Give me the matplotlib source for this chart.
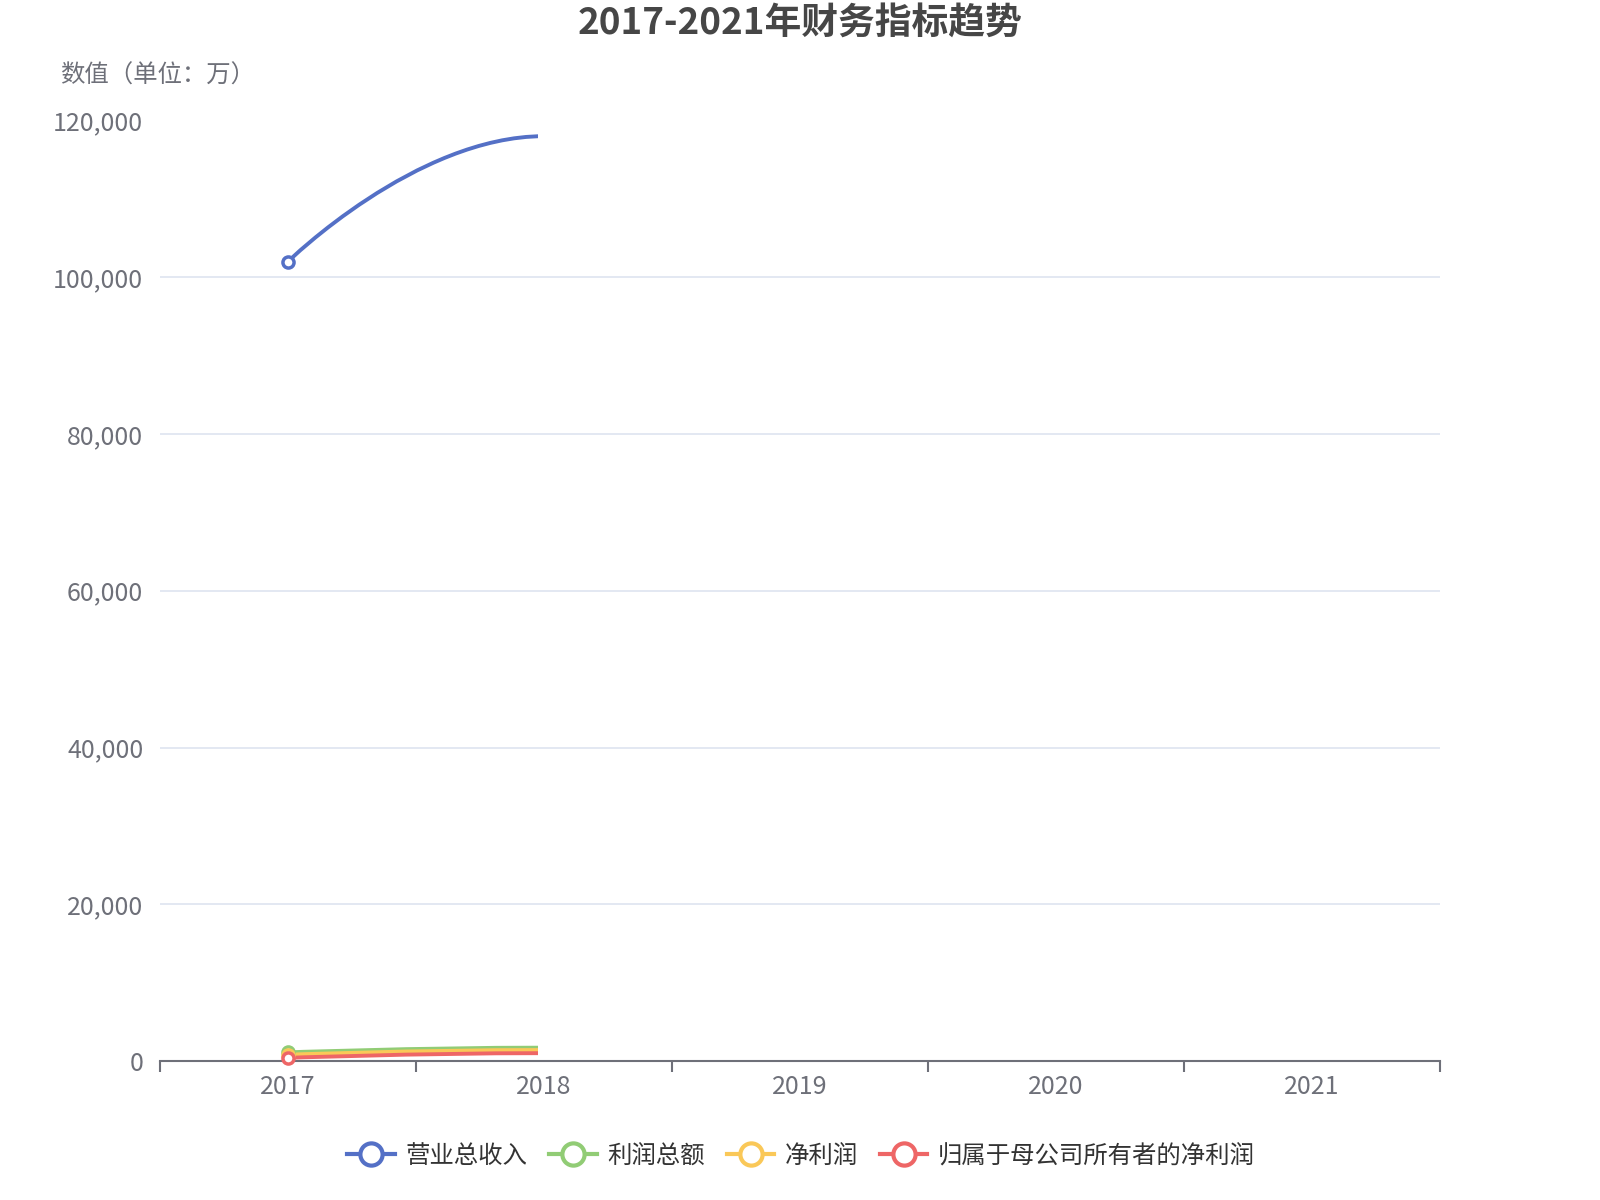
import matplotlib
matplotlib.use("Agg")
import matplotlib.pyplot as plt
from matplotlib.path import Path
from matplotlib.patches import PathPatch, Rectangle
from matplotlib.lines import Line2D

plt.rcParams['font.family'] = ['Noto Sans CJK SC', 'DejaVu Sans']

years = ["2017", "2018", "2019", "2020", "2021"]
series_names = ["营业总收入", "利润总额", "净利润", "归属于母公司所有者的净利润"]
colors = ["#5470c6", "#91cc75", "#fac858", "#ee6666"]
# only 2017 and 2018 are drawn in the reference (values in 万)
revenue = [102000, 118000]
total_profit = [1100, 1700]
net_profit = [800, 1400]
parent_net_profit = [400, 1000]
series_values = [revenue, total_profit, net_profit, parent_net_profit]

W, H = 1600, 1200
fig = plt.figure(figsize=(16, 12), dpi=100)
ax = fig.add_axes([160 / W, 1 - 1061 / H, (1440 - 160) / W, (1061 - 120.5) / H])

ax.set_xlim(-0.5, len(years) - 0.5)
ax.set_ylim(0, 120000)
ax.set_yticks(range(0, 120001, 20000))
ax.set_yticklabels(["{:,}".format(v) for v in range(0, 120001, 20000)])
ax.set_xticks(range(len(years)))
ax.set_xticklabels(years)
ax.set_xticks([i - 0.5 for i in range(len(years) + 1)], minor=True)

ax.grid(axis='y', color='#e0e6f1', linewidth=1.3)
ax.set_axisbelow(True)
for s in ['top', 'right', 'left']:
    ax.spines[s].set_visible(False)
ax.spines['bottom'].set_color('#6e7079')
ax.spines['bottom'].set_linewidth(1.5)
ax.tick_params(axis='y', length=0, pad=12, labelsize=18, labelcolor='#6e7079')
ax.tick_params(axis='x', which='major', length=0, pad=9, labelsize=18, labelcolor='#6e7079')
ax.tick_params(axis='x', which='minor', length=8, width=1.5, color='#6e7079')
for lbl in ax.get_yticklabels():
    lbl.set_va('center_baseline')

# clip like the partially drawn (animated) chart: stops just before 2018
clip = Rectangle((-0.5, -1e6), 1.476, 2e7, transform=ax.transData)

for vals, c in zip(series_values, colors):
    x0, x1 = 0, 1
    y0, y1 = vals
    verts = [(x0, y0), (x0, y0), (x0 + 0.5, y1), (x1, y1)]
    codes = [Path.MOVETO, Path.CURVE4, Path.CURVE4, Path.CURVE4]
    p = PathPatch(Path(verts, codes), facecolor='none', edgecolor=c,
                  linewidth=2.8, capstyle='butt', zorder=3)
    ax.add_patch(p)
    p.set_clip_path(clip)

for vals, c in zip(series_values, colors):
    ax.plot([0], [vals[0]], marker='o', markersize=8, markerfacecolor='white',
            markeredgecolor=c, markeredgewidth=2.5, linestyle='none', zorder=4,
            clip_on=False)

fig.text(800 / W, 1 - 23 / H, "2017-2021年财务指标趋势", ha='center', va='center',
         fontsize=26.5, fontweight='bold', color='#464646')
fig.text(158 / W, 1 - 76 / H, "数值（单位：万）", ha='center', va='center',
         fontsize=17.6, color='#6e7079')

handles = [Line2D([0], [0], color=c, linewidth=3, marker='o', markersize=16,
                  markerfacecolor='white', markeredgecolor=c, markeredgewidth=3)
           for c in colors]
fig.legend(handles, series_names, loc='center', bbox_to_anchor=(801 / W, 1 - 1156 / H),
           ncol=4, frameon=False, fontsize=17.6, handlelength=1.95, handletextpad=0.42,
           columnspacing=0.9, labelcolor='#333333')

fig.savefig("out.png", dpi=100, facecolor='white')
